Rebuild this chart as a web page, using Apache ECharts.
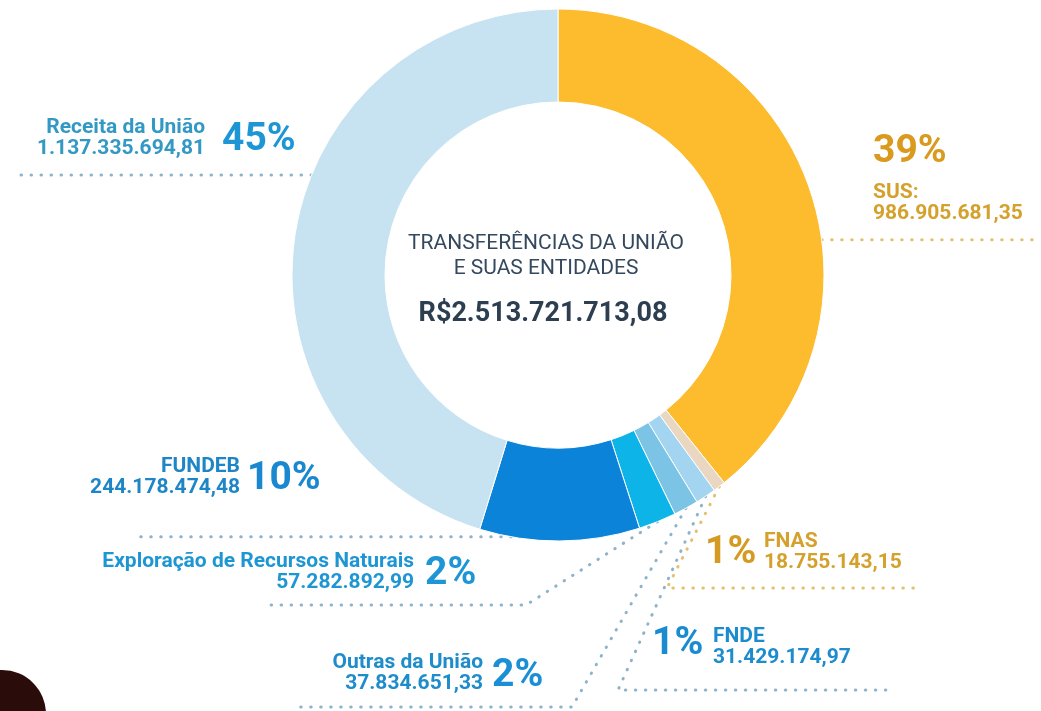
<!DOCTYPE html>
<html>
<head>
<meta charset="utf-8">
<title>Transferências da União</title>
<style>
  html, body { margin: 0; padding: 0; background: #fff; }
  #chart { width: 1041px; height: 711px; }
</style>
<script src="https://cdn.jsdelivr.net/npm/echarts@6/dist/echarts.min.js"></script>
</head>
<body>
<div id="chart"></div>
<script>
// dados (ordem horária a partir do topo)
var names = ['SUS', 'FNAS', 'FNDE', 'Outras da União', 'Exploração de Recursos Naturais', 'FUNDEB', 'Receita da União'];
var values = [986905681.35, 18755143.15, 31429174.97, 37834651.33, 57282892.99, 244178474.48, 1137335694.81];
var centerTitle = ['TRANSFERÊNCIAS DA UNIÃO', 'E SUAS ENTIDADES'];

// cores
var sliceColors = ['#FCBC2E', '#EAD7C2', '#A4D5F0', '#7BC4E6', '#0DB4E8', '#0B83D9', '#C7E3F1'];
var textColors = ['#D4A12C', '#D4A12C', '#1D8CCE', '#1E8CCB', '#1E96D3', '#1E86C6', '#3399C4'];
var pctColors = ['#D99A1E', '#D49A22', '#1A8BD0', '#1A8ED6', '#1E96D5', '#1A88D0', '#1E96D5'];
var dotColors = ['#E4C06C', '#E4C06C', '#8DB3CB', '#8DB3CB', '#8DB3CB', '#8DB3CB', '#8DB3CB'];

// geometria do donut
var CX = 558, CY = 275, R_IN = 173, R_OUT = 266;

// posição dos rótulos [x, y, align]
var pctPos = [
  [873, 152, 'left'], [705, 553, 'left'], [652, 644, 'left'], [492, 676, 'left'],
  [425, 574, 'left'], [247, 479, 'left'], [222, 140, 'left']
];
var textPos = [
  [873, 203, 'left'], [764, 552, 'left'], [713, 647, 'left'], [483, 673, 'right'],
  [414, 572, 'right'], [240, 477, 'right'], [205, 138, 'right']
];
// linhas pontilhadas: t = posição no arco da fatia, bend = quebra, endX = fim
var lineCfg = [
  { t: 0.583, endX: 1041 },
  { t: 0.5, bend: [667, 588], endX: 920 },
  { t: 0.5, bend: [618, 690], endX: 890 },
  { t: 0.5, bend: [572, 707], endX: 300 },
  { t: 0.5, bend: [526, 605], endX: 265 },
  { t: 0.8, endX: 133 },
  { t: 0.583, endX: 12 }
];

var total = values.reduce(function (s, v) { return s + v; }, 0);

function brl (v) {
  var parts = v.toFixed(2).split('.');
  return parts[0].replace(/\B(?=(\d{3})+(?!\d))/g, '.') + ',' + parts[1];
}

function arcPoint (i, t) {
  var before = 0;
  for (var j = 0; j < i; j++) before += values[j];
  var ang = (before + values[i] * t) / total * Math.PI * 2;
  return [CX + R_OUT * Math.sin(ang), CY - R_OUT * Math.cos(ang)];
}

var pctData = names.map(function (n, i) {
  return {
    name: n,
    value: values[i],
    itemStyle: { color: sliceColors[i] },
    label: { color: pctColors[i] },
    labelLine: { lineStyle: { color: dotColors[i] } }
  };
});

var textData = names.map(function (n, i) {
  return {
    name: n,
    value: values[i],
    itemStyle: { color: 'rgba(0,0,0,0)', borderWidth: 0 },
    label: { color: textColors[i] }
  };
});

var option = {
  backgroundColor: '#fff',
  animation: false,
  graphic: [
    {
      type: 'text',
      style: {
        text: centerTitle.join('\n'),
        x: 546, y: 256,
        align: 'center', verticalAlign: 'middle',
        textAlign: 'center', textVerticalAlign: 'middle',
        font: '21px Roboto',
        lineHeight: 25,
        fill: '#34495E'
      }
    },
    {
      type: 'text',
      style: {
        text: 'R$' + brl(total),
        x: 543, y: 314,
        align: 'center', verticalAlign: 'middle',
        textAlign: 'center', textVerticalAlign: 'middle',
        font: 'bold 27px Roboto',
        fill: '#2C3E50'
      }
    },
    {
      type: 'circle',
      shape: { cx: 2, cy: 714, r: 44 },
      style: { fill: '#2A0C0A' }
    }
  ],
  series: [
    {
      // fatias + percentuais + linhas
      type: 'pie',
      center: [CX, CY],
      radius: [R_IN, R_OUT],
      startAngle: 90,
      clockwise: true,
      percentPrecision: 0,
      avoidLabelOverlap: false,
      itemStyle: { borderColor: '#fff', borderWidth: 1 },
      emphasis: { disabled: true },
      label: {
        show: true,
        position: 'outside',
        formatter: '{d}%',
        fontFamily: 'Roboto',
        fontWeight: 'bold',
        fontSize: 39
      },
      labelLine: {
        show: true,
        lineStyle: { width: 3, type: [0.5, 9.5], cap: 'round' }
      },
      labelLayout: function (p) {
        var i = p.dataIndex;
        var c = pctPos[i];
        var cfg = lineCfg[i];
        var a = arcPoint(i, cfg.t);
        var pts = cfg.bend
          ? [a, cfg.bend, [cfg.endX, cfg.bend[1]]]
          : [a, [a[0] + (cfg.endX > a[0] ? 1 : -1), a[1]], [cfg.endX, a[1]]];
        return { x: c[0], y: c[1], align: c[2], verticalAlign: 'middle', labelLinePoints: pts };
      },
      data: pctData
    },
    {
      // nomes e valores
      type: 'pie',
      silent: true,
      z: 1,
      center: [CX, CY],
      radius: [R_IN, R_OUT],
      startAngle: 90,
      clockwise: true,
      avoidLabelOverlap: false,
      label: {
        show: true,
        position: 'outside',
        formatter: function (p) {
          return p.name + (p.dataIndex === 0 ? ':' : '') + '\n' + brl(p.value);
        },
        fontFamily: 'Roboto',
        fontWeight: 'bold',
        fontSize: 21,
        lineHeight: 21
      },
      labelLine: { show: false },
      labelLayout: function (p) {
        var c = textPos[p.dataIndex];
        return { x: c[0], y: c[1], align: c[2], verticalAlign: 'middle' };
      },
      data: textData
    }
  ]
};

var chart = echarts.init(document.getElementById('chart'), null, { renderer: 'canvas' });
chart.setOption(option);
</script>
</body>
</html>
